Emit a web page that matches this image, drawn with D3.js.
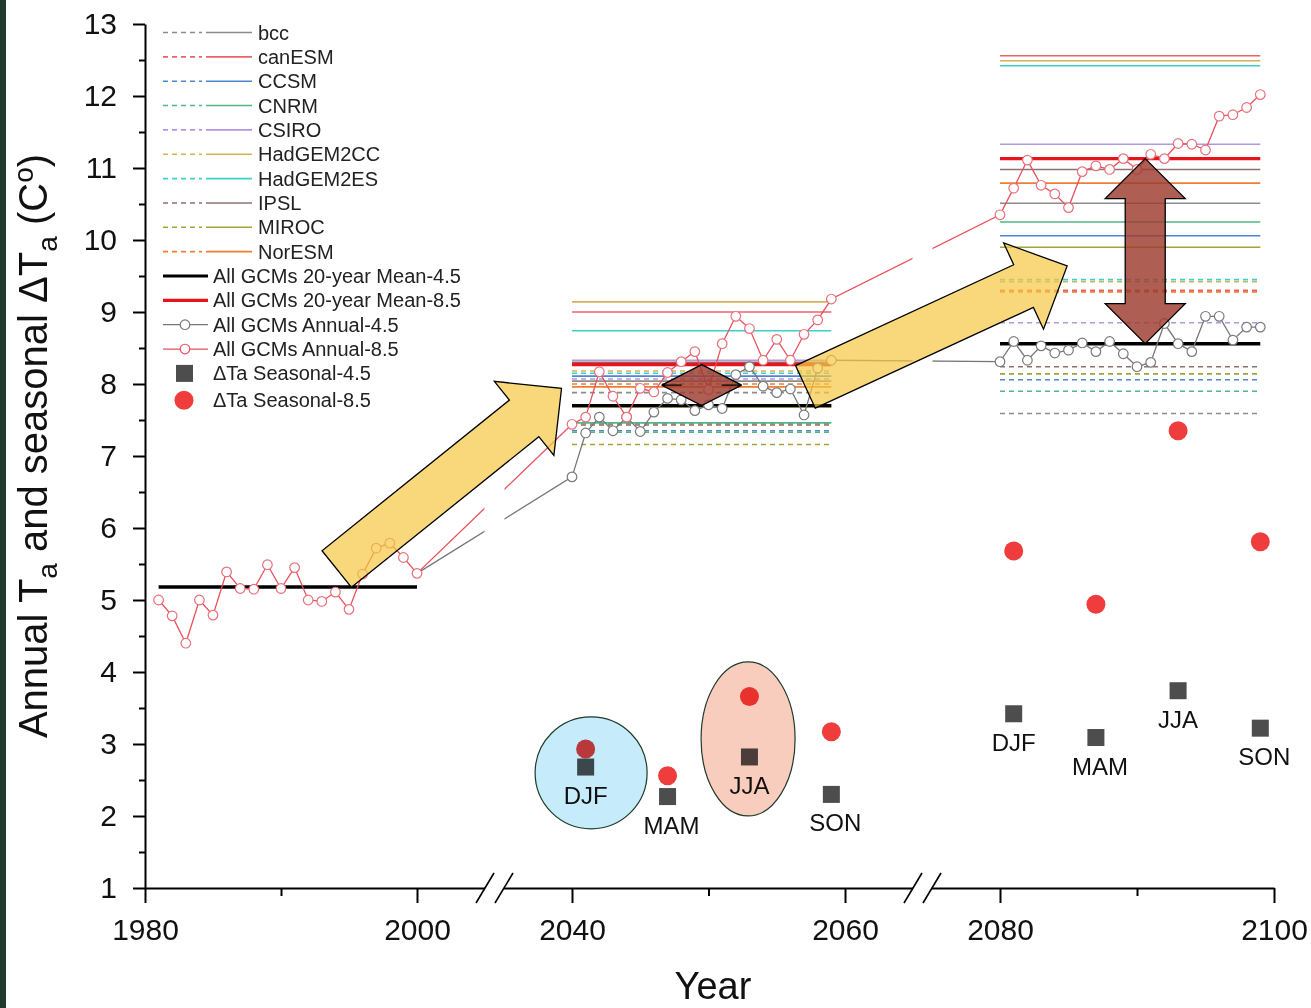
<!DOCTYPE html>
<html>
<head>
<meta charset="utf-8">
<title>Annual and seasonal Ta</title>
<script src="https://cdn.jsdelivr.net/npm/d3@7"></script>
<style>
    body { margin: 0; background: #fff; }
    svg { font-family: 'Liberation Sans', Arial, sans-serif; }
    .model { fill: none; stroke-width: 1.6px; }
    .mean { fill: none; stroke-width: 3.4px; }
    .annual { fill: none; stroke-width: 1.3px; }
    .ann-pt { fill: #fff; stroke-width: 1.2px; }
    .season-lbl { font-size: 24px; fill: #111; text-anchor: middle; }
    .legend text { font-size: 20px; fill: #222; }
</style>
</head>
<body>
<svg id="chart" width="1311" height="1008"></svg>
<script>
    var vWidth = 1311;
    var vHeight = 1008;

    // GCMs and their colours
    var models = ['bcc', 'canESM', 'CCSM', 'CNRM', 'CSIRO', 'HadGEM2CC', 'HadGEM2ES', 'IPSL', 'MIROC', 'NorESM'];
    var modelColors = ['#8c8c8c', '#e8636b', '#4f86d0', '#4fb886', '#b396e0', '#d6b154', '#3cd0cc', '#8f7070', '#a3a33a', '#ef7d35'];

    // 20-year mean per GCM (mid and end of century)
    var gcmMid45 = [7.88, 7.45, 7.35, 7.33, 8.07, 8.18, 8.15, 7.43, 7.16, 8.00];
    var gcmMid85 = [8.04, 9.00, 8.11, 7.46, 8.33, 9.14, 8.74, 8.30, 7.68, 7.96];
    var gcmEnd45 = [7.59, 9.30, 8.06, 7.90, 8.85, 9.42, 9.45, 8.24, 8.14, 9.28];
    var gcmEnd85 = [10.51, 12.56, 10.06, 10.25, 11.33, 12.49, 12.42, 10.98, 9.90, 10.79];

    // all-GCM 20-year means
    var periods = [[1981, 2000], [2040, 2059], [2080, 2099]];
    var allMean45 = [5.18, 7.70, 8.56];
    var allMean85 = [null, 8.27, 11.13];

    // annual series
    var histYears = d3.range(1981, 2001);
    var midYears = d3.range(2040, 2060);
    var endYears = d3.range(2080, 2100);
    var hist = [5.00, 4.78, 4.40, 5.00, 4.79, 5.39, 5.16, 5.15, 5.49, 5.16, 5.45, 5.00, 4.98, 5.11, 4.87, 5.36, 5.72, 5.79, 5.59, 5.37];
    var annMid45 = [6.71, 7.32, 7.54, 7.35, 7.54, 7.34, 7.61, 7.80, 7.78, 7.63, 7.71, 7.66, 8.13, 8.24, 7.97, 7.88, 7.93, 7.57, 8.22, 8.33];
    var annMid85 = [7.44, 7.54, 8.17, 7.83, 7.54, 7.94, 7.89, 8.16, 8.31, 8.45, 7.92, 8.56, 8.94, 8.77, 8.33, 8.62, 8.33, 8.69, 8.89, 9.18];
    var annEnd45 = [8.31, 8.59, 8.33, 8.53, 8.43, 8.47, 8.57, 8.45, 8.59, 8.42, 8.24, 8.30, 8.84, 8.56, 8.45, 8.94, 8.94, 8.61, 8.79, 8.79];
    var annEnd85 = [10.35, 10.72, 11.11, 10.76, 10.64, 10.45, 10.95, 11.03, 10.98, 11.13, 10.98, 11.19, 11.13, 11.34, 11.33, 11.25, 11.72, 11.74, 11.84, 12.02];

    // seasonal delta Ta
    var seasons = ['DJF', 'MAM', 'JJA', 'SON'];
    var seasYearsMid = [2041, 2047, 2053, 2059];
    var seasYearsEnd = [2081, 2087, 2093, 2099];
    var seasMid45 = [2.68, 2.27, 2.82, 2.30];
    var seasMid85 = [2.93, 2.56, 3.66, 3.17];
    var seasEnd45 = [3.42, 3.09, 3.74, 3.22];
    var seasEnd85 = [5.68, 4.94, 7.35, 5.81];

    // axes
    var yTicks = d3.range(1, 14);
    var xTicks = [1980, 2000, 2040, 2060, 2080, 2100];
    var xMinor = [1990, 2050, 2090];
    var xBreaks = [2020, 2070];

    // broken x axis: three pieces
    var x = d3.scaleLinear()
        .domain([1980, 2000, 2040, 2060, 2080, 2100])
        .range([145, 417, 572, 845, 1000, 1274]);
    var y = d3.scaleLinear().domain([1, 13]).range([888, 24]);

    var svg = d3.select('#chart');

    svg.append('rect').attr('x', 0).attr('y', 0).attr('width', 6).attr('height', vHeight).attr('fill', '#1e3b2c');

    // clip the connecting lines at the axis breaks
    var gapHalf = 10;
    var pieces = [[0, x(xBreaks[0]) - gapHalf], [x(xBreaks[0]) + gapHalf, x(xBreaks[1]) - gapHalf], [x(xBreaks[1]) + gapHalf, vWidth]];
    svg.append('clipPath').attr('id', 'brk')
        .selectAll('rect').data(pieces).enter().append('rect')
        .attr('x', function (d) { return d[0]; })
        .attr('y', 0)
        .attr('width', function (d) { return d[1] - d[0]; })
        .attr('height', vHeight);

    // GCM 20-year lines
    var gcmRows = [];
    [[periods[1], gcmMid45, gcmMid85], [periods[2], gcmEnd45, gcmEnd85]].forEach(function (p) {
        models.forEach(function (m, i) {
            gcmRows.push({p: p[0], v: p[1][i], c: modelColors[i], dash: true});
        });
        models.forEach(function (m, i) {
            gcmRows.push({p: p[0], v: p[2][i], c: modelColors[i], dash: false});
        });
    });
    svg.append('g').selectAll('line').data(gcmRows).enter().append('line')
        .attr('class', 'model')
        .attr('x1', function (d) { return x(d.p[0]); })
        .attr('x2', function (d) { return x(d.p[1]); })
        .attr('y1', function (d) { return y(d.v); })
        .attr('y2', function (d) { return y(d.v); })
        .attr('stroke', function (d) { return d.c; })
        .attr('stroke-dasharray', function (d) { return d.dash ? '5,4' : null; });

    // all-GCM means
    var meanRows = [];
    periods.forEach(function (p, i) {
        meanRows.push({p: p, v: allMean45[i], c: '#000'});
        if (allMean85[i] != null) meanRows.push({p: p, v: allMean85[i], c: '#e8141c'});
    });
    svg.append('g').selectAll('line').data(meanRows).enter().append('line')
        .attr('class', 'mean')
        .attr('x1', function (d) { return x(d.p[0]); })
        .attr('x2', function (d) { return x(d.p[1]); })
        .attr('y1', function (d) { return y(d.v); })
        .attr('y2', function (d) { return y(d.v); })
        .attr('stroke', function (d) { return d.c; });

    // annual series
    function pts(years, vals) {
        return years.map(function (yr, i) { return {yr: yr, v: vals[i]}; });
    }
    var red = pts(histYears, hist).concat(pts(midYears, annMid85), pts(endYears, annEnd85));
    var gray = pts([2000], [hist[hist.length - 1]]).concat(pts(midYears, annMid45), pts(endYears, annEnd45));
    var line = d3.line().x(function (d) { return x(d.yr); }).y(function (d) { return y(d.v); });

    var series = [{d: gray, c: '#777', pc: '#7a7a7a', skip: 1}, {d: red, c: '#e8505c', pc: '#e8707a', skip: 0}];
    series.forEach(function (s) {
        svg.append('path').datum(s.d)
            .attr('class', 'annual')
            .attr('clip-path', 'url(#brk)')
            .attr('stroke', s.c)
            .attr('d', line);
        svg.append('g').selectAll('circle').data(s.d.slice(s.skip)).enter().append('circle')
            .attr('class', 'ann-pt')
            .attr('stroke', s.pc)
            .attr('cx', function (d) { return x(d.yr); })
            .attr('cy', function (d) { return y(d.v); })
            .attr('r', 4.8);
    });

    // seasonal points
    var seas45 = pts(seasYearsMid, seasMid45).concat(pts(seasYearsEnd, seasEnd45));
    var seas85 = pts(seasYearsMid, seasMid85).concat(pts(seasYearsEnd, seasEnd85));
    seas45.forEach(function (d, i) { d.name = seasons[i % 4]; });

    svg.append('g').selectAll('circle').data(seas85).enter().append('circle')
        .attr('cx', function (d) { return x(d.yr); })
        .attr('cy', function (d) { return y(d.v); })
        .attr('r', 9.5)
        .attr('fill', '#ef3d3d');
    svg.append('g').selectAll('rect').data(seas45).enter().append('rect')
        .attr('x', function (d) { return x(d.yr) - 8.5; })
        .attr('y', function (d) { return y(d.v) - 8.5; })
        .attr('width', 17).attr('height', 17)
        .attr('fill', '#4d4d4d');
    svg.append('g').selectAll('text').data(seas45).enter().append('text')
        .attr('class', 'season-lbl')
        .attr('x', function (d) { return x(d.yr) + (d.name === 'MAM' || d.name === 'SON' ? 4 : 0); })
        .attr('y', function (d) { return y(d.v) + 37; })
        .text(function (d) { return d.name; });

    // highlight ellipses (DJF and JJA, mid century)
    var rings = [
        {yr: 2041.4, v: 2.60, rx: 56, ry: 56, c: '#c6ebfa'},
        {yr: 2052.9, v: 3.07, rx: 47, ry: 77, c: '#f9cdbe'}
    ];
    svg.append('g').selectAll('ellipse').data(rings).enter().append('ellipse')
        .attr('cx', function (d) { return x(d.yr); })
        .attr('cy', function (d) { return y(d.v); })
        .attr('rx', function (d) { return d.rx; })
        .attr('ry', function (d) { return d.ry; })
        .attr('fill', function (d) { return d.c; })
        .attr('stroke', '#1f3b2a')
        .attr('stroke-width', 1.2)
        .style('mix-blend-mode', 'multiply');

    // arrows
    function arrow(t, p, w, h, len) {
        var dx = p[0] - t[0], dy = p[1] - t[1], l = Math.hypot(dx, dy);
        var ux = dx / l, uy = dy / l, nx = -uy, ny = ux;
        var b = [p[0] - ux * len, p[1] - uy * len];
        return [[t[0] + nx * w, t[1] + ny * w], [b[0] + nx * w, b[1] + ny * w], [b[0] + nx * h, b[1] + ny * h], p,
            [b[0] - nx * h, b[1] - ny * h], [b[0] - nx * w, b[1] - ny * w], [t[0] - nx * w, t[1] - ny * w]];
    }
    function dblArrow(p1, p2, w, h, len) {
        var dx = p2[0] - p1[0], dy = p2[1] - p1[1], l = Math.hypot(dx, dy);
        var ux = dx / l, uy = dy / l, nx = -uy, ny = ux;
        var b1 = [p1[0] + ux * len, p1[1] + uy * len], b2 = [p2[0] - ux * len, p2[1] - uy * len];
        return [p1, [b1[0] + nx * h, b1[1] + ny * h], [b1[0] + nx * w, b1[1] + ny * w], [b2[0] + nx * w, b2[1] + ny * w],
            [b2[0] + nx * h, b2[1] + ny * h], p2, [b2[0] - nx * h, b2[1] - ny * h], [b2[0] - nx * w, b2[1] - ny * w],
            [b1[0] - nx * w, b1[1] - ny * w], [b1[0] - nx * h, b1[1] - ny * h]];
    }
    function px(d) { return [x(d[0]), y(d[1])]; }

    var yellowArrows = [[[1994.1, 5.43], [2037.3, 7.94]], [[2057.1, 7.96], [2084.9, 9.64]]];
    svg.append('g').selectAll('polygon').data(yellowArrows).enter().append('polygon')
        .attr('points', function (d) { return arrow(px(d[0]), px(d[1]), 23.5, 47.5, 48).join(' '); })
        .attr('fill', '#f5c842').attr('fill-opacity', 0.7)
        .attr('stroke', '#000').attr('stroke-width', 1.3);

    var brownArrows = [
        {a: [2049.5, allMean85[1]], b: [2049.5, allMean45[1]], head: 0.5},
        {a: [2090.6, allMean85[2]], b: [2090.6, allMean45[2]], head: 40}
    ];
    svg.append('g').selectAll('polygon').data(brownArrows).enter().append('polygon')
        .attr('points', function (d) {
            var p1 = px(d.a), p2 = px(d.b);
            var len = d.head < 1 ? (p2[1] - p1[1]) * d.head : d.head;
            return dblArrow(p1, p2, 20, 40, len).join(' ');
        })
        .attr('fill', '#9e3b2e').attr('fill-opacity', 0.82)
        .attr('stroke', '#000').attr('stroke-width', 1.3);

    // axes
    function styleAxis(g) {
        g.attr('font-family', null).attr('font-size', null);
        g.selectAll('path, line').attr('stroke', '#000').attr('stroke-width', 2);
        g.selectAll('text').attr('font-size', 30).attr('fill', '#111');
    }
    svg.append('g').attr('transform', 'translate(' + x(1980) + ',0)')
        .call(d3.axisLeft(y).tickValues(d3.range(1.5, 13, 1)).tickSize(6).tickFormat(''))
        .call(styleAxis).select('.domain').remove();
    svg.append('g').attr('transform', 'translate(' + x(1980) + ',0)')
        .call(d3.axisLeft(y).tickValues(yTicks).tickSize(12).tickPadding(16).tickSizeOuter(0).tickFormat(d3.format('d')))
        .call(styleAxis);
    svg.append('g').attr('transform', 'translate(0,' + y(1) + ')')
        .call(d3.axisBottom(x).tickValues(xMinor).tickSize(8).tickFormat(''))
        .call(styleAxis).select('.domain').remove();
    svg.append('g').attr('transform', 'translate(0,' + y(1) + ')')
        .call(d3.axisBottom(x).tickValues(xTicks).tickSize(15).tickPadding(16).tickSizeOuter(0).tickFormat(d3.format('d')))
        .call(styleAxis);

    // break marks //
    var brk = svg.append('g');
    xBreaks.forEach(function (b) {
        var cx = x(b), cy = y(1);
        brk.append('rect').attr('x', cx - 9.5).attr('y', cy - 4).attr('width', 19).attr('height', 8).attr('fill', '#fff');
        [-9.5, 9.5].forEach(function (o) {
            brk.append('line')
                .attr('x1', cx + o - 9).attr('y1', cy + 15)
                .attr('x2', cx + o + 9).attr('y2', cy - 15)
                .attr('stroke', '#000').attr('stroke-width', 1.6);
        });
    });

    // axis titles
    var yt = svg.append('text')
        .attr('transform', 'translate(47,446) rotate(-90)')
        .attr('text-anchor', 'middle')
        .attr('font-size', 40).attr('fill', '#111');
    yt.append('tspan').text('Annual T');
    yt.append('tspan').attr('dy', 10).attr('font-size', 28).text('a');
    yt.append('tspan').attr('dy', -10).text(' and seasonal \u0394T');
    yt.append('tspan').attr('dy', 10).attr('font-size', 28).text('a');
    yt.append('tspan').attr('dy', -10).text(' (C');
    yt.append('tspan').attr('dy', -14).attr('font-size', 28).text('o');
    yt.append('tspan').attr('dy', 14).text(')');

    svg.append('text').attr('x', 713).attr('y', 999)
        .attr('text-anchor', 'middle').attr('font-size', 38).attr('fill', '#111')
        .text('Year');

    // legend
    var leg = svg.append('g').attr('class', 'legend');
    var legX = 163, legY0 = 32.5, legDy = 24.35;
    models.forEach(function (m, i) {
        var ly = legY0 + i * legDy;
        leg.append('line').attr('x1', legX).attr('x2', legX + 39).attr('y1', ly).attr('y2', ly)
            .attr('stroke', modelColors[i]).attr('stroke-width', 1.6).attr('stroke-dasharray', '5,4');
        leg.append('line').attr('x1', legX + 43).attr('x2', legX + 89).attr('y1', ly).attr('y2', ly)
            .attr('stroke', modelColors[i]).attr('stroke-width', 1.6);
        leg.append('text').attr('x', legX + 95).attr('y', ly).attr('dy', '0.35em').text(m);
    });
    var extra = [
        {t: 'All GCMs 20-year Mean-4.5', k: 'mean', c: '#000'},
        {t: 'All GCMs 20-year Mean-8.5', k: 'mean', c: '#e8141c'},
        {t: 'All GCMs Annual-4.5', k: 'ann', c: '#777'},
        {t: 'All GCMs Annual-8.5', k: 'ann', c: '#e8505c'},
        {t: '\u0394Ta Seasonal-4.5', k: 'sq', c: '#4d4d4d'},
        {t: '\u0394Ta Seasonal-8.5', k: 'dot', c: '#ef3d3d'}
    ];
    extra.forEach(function (e, j) {
        var ly = legY0 + (models.length + j) * legDy + (e.k === 'dot' ? 2.5 : 0);
        if (e.k === 'mean' || e.k === 'ann') {
            leg.append('line').attr('x1', legX).attr('x2', legX + 45).attr('y1', ly).attr('y2', ly)
                .attr('stroke', e.c).attr('stroke-width', e.k === 'mean' ? 3.2 : 1.3);
        }
        if (e.k === 'ann') {
            leg.append('circle').attr('cx', legX + 22).attr('cy', ly).attr('r', 4.8)
                .attr('fill', '#fff').attr('stroke', e.c).attr('stroke-width', 1.2);
        }
        if (e.k === 'sq') {
            leg.append('rect').attr('x', legX + 13).attr('y', ly - 8.5).attr('width', 17).attr('height', 17).attr('fill', e.c);
        }
        if (e.k === 'dot') {
            leg.append('circle').attr('cx', legX + 21).attr('cy', ly).attr('r', 9.5).attr('fill', e.c);
        }
        leg.append('text').attr('x', legX + 50).attr('y', ly).attr('dy', '0.35em').text(e.t);
    });
</script>
</body>
</html>
